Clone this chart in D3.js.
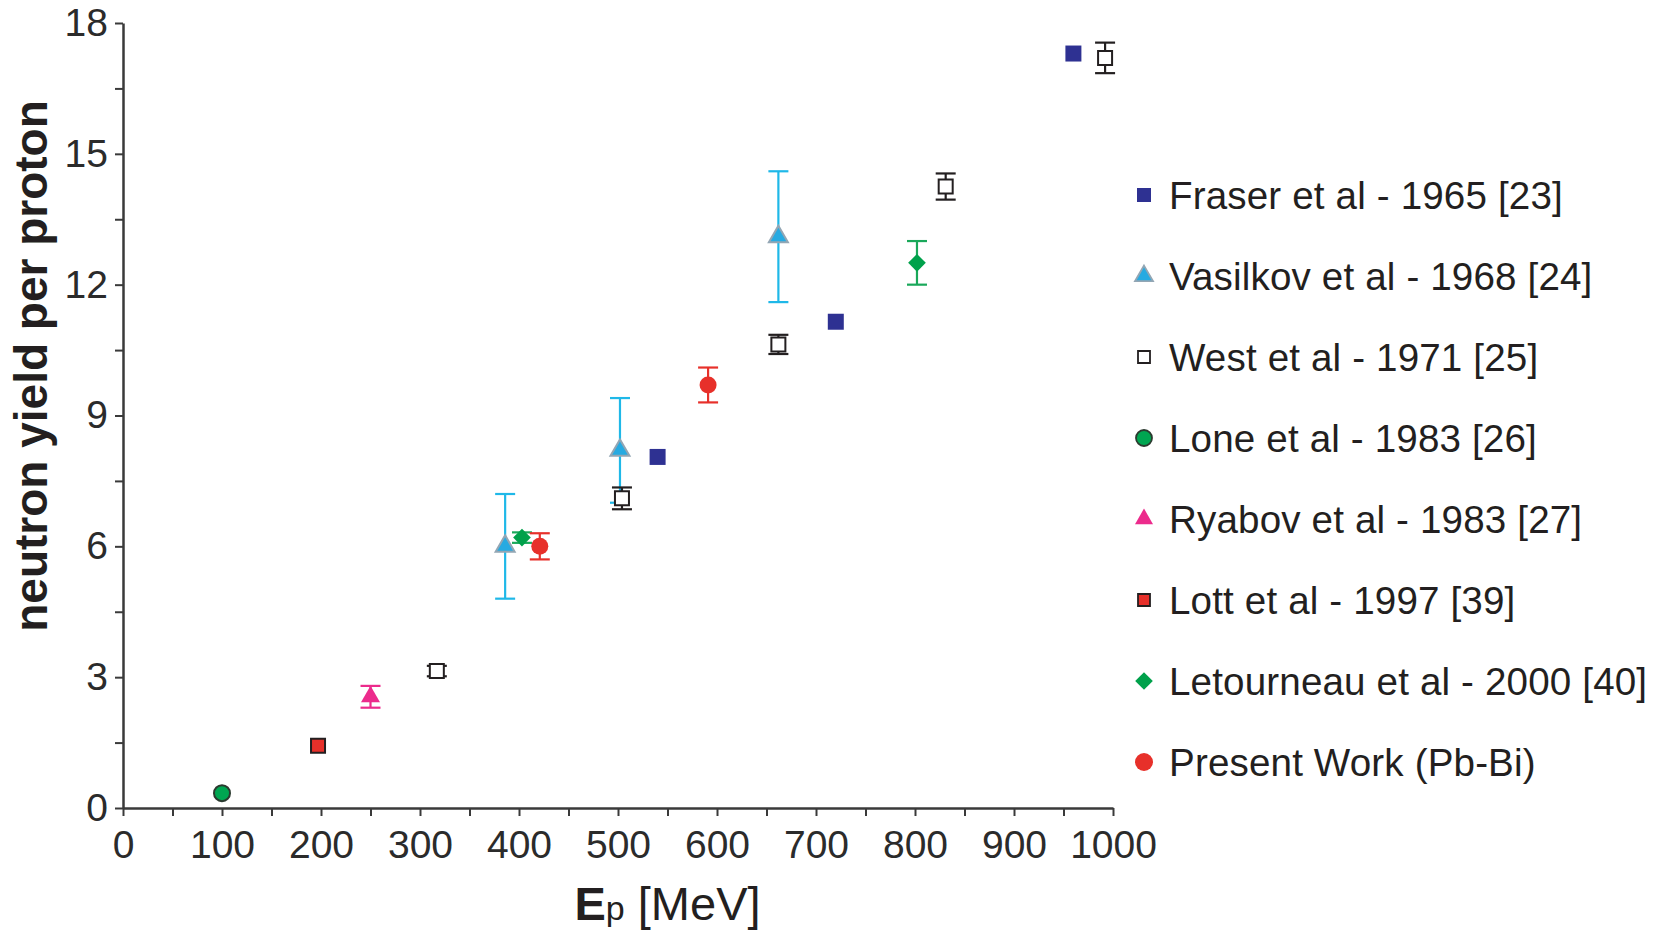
<!DOCTYPE html>
<html>
<head>
<meta charset="utf-8">
<script src="https://cdn.jsdelivr.net/npm/d3@7"></script>
<style>
  body { margin: 0; background: #fff; }
  text { font-family: "Liberation Sans", Arial, Helvetica, sans-serif; fill: #231f20; }
</style>
</head>
<body>
<div id="chart"></div>
<script>
// data: [Ep MeV, yield, error]
var fraser     = [[540, 8.05, 0], [720, 11.15, 0], [960, 17.3, 0]];
var vasilkov   = [[386, 6.0, 1.2], [502, 8.2, 1.2], [662, 13.1, 1.5]];
var west       = [[317, 3.14, 0.12], [504, 7.1, 0.25], [662, 10.63, 0.22], [831, 14.25, 0.3], [992, 17.2, 0.35]];
var lone       = [[100, 0.34, 0]];
var ryabov     = [[250, 2.55, 0.25]];
var lott       = [[197, 1.43, 0]];
var letourneau = [[403, 6.2, 0.12], [802, 12.5, 0.5]];
var present    = [[421, 6.0, 0.3], [591, 9.7, 0.4]];

var labels = ["Fraser et al - 1965 [23]", "Vasilkov et al - 1968 [24]", "West et al - 1971 [25]",
  "Lone et al - 1983 [26]", "Ryabov et al - 1983 [27]", "Lott et al - 1997 [39]",
  "Letourneau et al - 2000 [40]", "Present Work (Pb-Bi)"];

var xTicks = d3.range(0, 1001, 50);
var yTicks = d3.range(0, 18.01, 1.5);

// size = marker width in px (plot), lsize = width in legend
var series = [
  {data: fraser, label: labels[0], shape: "square", fill: "#2e3192", stroke: "none", err: "#2e3192", size: 16, lsize: 14},
  {data: vasilkov, label: labels[1], shape: "triangle", fill: "#27aae1", stroke: "#93a6b4", err: "#1fb8e8", size: 19, lsize: 18},
  {data: west, label: labels[2], shape: "square", fill: "#fff", stroke: "#231f20", err: "#231f20", size: 14, lsize: 12},
  {data: lone, label: labels[3], shape: "circle", fill: "#00a651", stroke: "#2b3a2f", err: "#00a651", size: 16, lsize: 16},
  {data: ryabov, label: labels[4], shape: "triangle", fill: "#ec2b8c", stroke: "none", err: "#ec2b8c", size: 19, lsize: 18},
  {data: lott, label: labels[5], shape: "square", fill: "#e7302a", stroke: "#231f20", err: "#e7302a", size: 14, lsize: 12},
  {data: letourneau, label: labels[6], shape: "diamond", fill: "#00a14b", stroke: "none", err: "#1aa85a", size: 12.5, lsize: 12.5},
  {data: present, label: labels[7], shape: "circle", fill: "#e7302a", stroke: "none", err: "#e7302a", size: 17, lsize: 18}
];

var margin = {top: 23, left: 123},
    width = 990, height = 785;

var svg = d3.select("#chart").append("svg")
  .attr("width", 1662).attr("height", 930)
  .append("g")
  .attr("transform", "translate(" + margin.left + "," + margin.top + ")");

var x = d3.scaleLinear().domain([0, 1000]).range([0, width]);
var y = d3.scaleLinear().domain([0, 18]).range([height, 0]);

var xAxis = svg.append("g")
  .attr("transform", "translate(0," + height + ")")
  .call(d3.axisBottom(x).tickValues(xTicks).tickSize(8).tickSizeOuter(0).tickPadding(14)
    .tickFormat(function(d) { return d % 100 === 0 ? d : ""; }));

var yAxis = svg.append("g")
  .call(d3.axisLeft(y).tickValues(yTicks).tickSize(8).tickSizeOuter(0).tickPadding(7)
    .tickFormat(function(d) { return d % 3 === 0 ? d : ""; }));

[xAxis, yAxis].forEach(function(a) {
  a.select(".domain").attr("stroke", "#3a3a3a").attr("stroke-width", 2.5);
  a.selectAll(".tick line").attr("stroke", "#3a3a3a").attr("stroke-width", 2);
  a.selectAll(".tick text").style("font-size", "39px").style("fill", "#2b2b2b");
});

// axis titles
svg.append("text")
  .attr("transform", "translate(" + (-76) + "," + 343 + ") rotate(-90)")
  .attr("text-anchor", "middle")
  .style("font-size", "46px").style("font-weight", "bold")
  .text("neutron yield per proton");

var xt = svg.append("text")
  .attr("x", x(550)).attr("y", height + 112)
  .attr("text-anchor", "middle")
  .style("font-size", "47px");
xt.append("tspan").style("font-weight", "bold").text("E");
xt.append("tspan").style("font-size", "34px").text("p");
xt.append("tspan").text(" [MeV]");

function symbolPath(shape, size) {
  var type = {square: d3.symbolSquare, triangle: d3.symbolTriangle,
              circle: d3.symbolCircle, diamond: d3.symbolSquare}[shape];
  var area = shape === "circle" ? Math.PI * size * size / 4 :
             shape === "triangle" ? size * size * Math.sqrt(3) / 4 : size * size;
  return d3.symbol().type(type).size(area)();
}

// error bars under the markers
series.forEach(function(s) {
  s.data.filter(function(d) { return d[2] > 0; }).forEach(function(d) {
    var g = svg.append("g").attr("stroke", s.err).attr("stroke-width", 2.2);
    g.append("line").attr("x1", x(d[0])).attr("x2", x(d[0]))
      .attr("y1", y(d[1] - d[2])).attr("y2", y(d[1] + d[2]));
    [d[1] - d[2], d[1] + d[2]].forEach(function(v) {
      g.append("line").attr("x1", x(d[0]) - 10).attr("x2", x(d[0]) + 10)
        .attr("y1", y(v)).attr("y2", y(v));
    });
  });
});

series.forEach(function(s) {
  svg.selectAll(null).data(s.data).enter().append("path")
    .attr("d", symbolPath(s.shape, s.size))
    .attr("transform", function(d) {
      return "translate(" + x(d[0]) + "," + y(d[1]) + ")" + (s.shape === "diamond" ? " rotate(45)" : "");
    })
    .attr("fill", s.fill)
    .attr("stroke", s.stroke)
    .attr("stroke-width", 2);
});

// legend
var legend = svg.append("g").attr("transform", "translate(" + (1144 - margin.left) + "," + (195 - margin.top) + ")");
series.forEach(function(s, i) {
  var row = legend.append("g").attr("transform", "translate(0," + (i * 81) + ")");
  row.append("path")
    .attr("d", symbolPath(s.shape, s.lsize))
    .attr("transform", s.shape === "diamond" ? "rotate(45)" : null)
    .attr("fill", s.fill)
    .attr("stroke", s.stroke)
    .attr("stroke-width", 1.8);
  row.append("text")
    .attr("x", 25).attr("dy", "0.35em")
    .style("font-size", "38.6px")
    .style("letter-spacing", "0.15px")
    .text(s.label);
});
</script>
</body>
</html>
